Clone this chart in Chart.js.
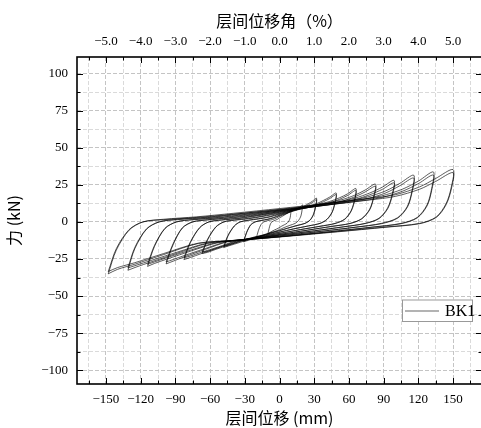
<!DOCTYPE html>
<html lang="zh">
<head>
    <meta charset="UTF-8">
    <title>BK1 滞回曲线</title>
    <script src="https://cdn.jsdelivr.net/npm/chart.js"></script>
    <style>
        html, body {
            margin: 0;
            padding: 0;
            background: #fff;
            overflow: hidden;
        }

        .chart-box {
            position: relative;
            width: 482px;
            height: 428px;
        }
    </style>
</head>
<body>
    <div class="chart-box">
        <canvas id="hysteresisChart" width="482" height="428"></canvas>
    </div>

    <script>
        // axis ticks
        const dispTicks = [-150, -120, -90, -60, -30, 0, 30, 60, 90, 120, 150];
        const driftTicks = [-5, -4, -3, -2, -1, 0, 1, 2, 3, 4, 5];
        const forceTicks = [-100, -75, -50, -25, 0, 25, 50, 75, 100];

        // loops per displacement level: displacement (mm), force (kN) for cycle 1 and cycle 2
        const x10 = [-10, -9, -7.8, -6.5, -5, -3, -1.5, 0, 2.5, 5, 6.5, 8, 9, 10, 9.7, 9.2, 8.2, 6.5, 4.5, 2, 0, -2.5, -4.5, -6.5, -8, -9, -10];
        const y10 = [-8, -4.5, -1.3, 0, 0.7, 1.3, 1.9, 2.7, 3.8, 5, 5.7, 6.4, 7.1, 8, 5.5, 2.8, 0.7, -0.9, -1.8, -2.8, -3.8, -4.8, -5.5, -6.3, -7, -7.5, -8];
        const x20 = [-20, -18.3, -16, -13.5, -10, -6, -3, 0, 5, 10, 13, 16, 18.2, 20, 19.5, 18.5, 16.5, 13.5, 9, 4, 0, -5, -9, -13, -16, -18.3, -20];
        const y20 = [-11, -6, -1.8, 0, 0.9, 1.6, 2.5, 3.7, 5.3, 7, 8, 9.1, 10.2, 11.5, 8, 4, 1, -1, -2.3, -3.8, -5.2, -6.6, -7.6, -8.7, -9.7, -10.4, -11];
        const x32 = [-31, -28.5, -25, -21, -16, -10, -5, 0, 8, 16, 21, 25, 28.5, 32, 31.3, 29.5, 26.5, 22, 15, 7, 0, -8, -14, -20, -25, -28.5, -31];
        const y32 = [-13.5, -7.5, -2.2, 0, 1, 1.9, 3, 4.6, 6.8, 9, 10.6, 12.3, 14, 16, 11, 5.5, 1.4, -1, -2.5, -4.3, -6, -7.7, -9, -10.5, -12, -12.8, -13.5];
        const y32b = [-12.9, -7.1, -2, 0, 0.9, 1.7, 2.8, 4.2, 6.3, 8.4, 9.9, 11.5, 13.1, 15, 10.3, 5.1, 1.2, -1, -2.4, -4.2, -5.8, -7.4, -8.7, -10.1, -11.5, -12.3, -12.9];
        const x49 = [-48.2, -44.5, -39, -34, -27, -18, -9, 0, 12, 24, 32, 38, 43.5, 49, 48, 45.5, 41, 35, 25, 12, 0, -12, -22, -31, -39, -44.5, -48.2];
        const y49 = [-17.3, -9.5, -2.8, 0, 1.2, 2.2, 3.5, 5.5, 8, 10.5, 12.3, 14.5, 16.8, 19.5, 13.5, 6.8, 1.8, -1, -2.7, -4.8, -7, -9, -10.5, -13, -15, -16.3, -17.3];
        const y49b = [-16.5, -9, -2.6, 0, 1, 2, 3.2, 5.1, 7.4, 9.8, 11.5, 13.6, 15.8, 18.4, 12.7, 6.4, 1.6, -1, -2.7, -4.7, -6.8, -8.7, -10.2, -12.5, -14.4, -15.6, -16.5];
        const x66 = [-66.8, -62, -55, -48, -39, -27, -15, 0, 16, 33, 43, 52, 59, 66, 65, 62, 56.5, 48, 35, 18, 0, -16, -30, -43, -55, -62, -66.8];
        const y66 = [-21.3, -12, -3.5, 0, 1.3, 2.4, 3.9, 6.3, 9, 11.7, 13.7, 16.3, 19, 22.5, 15.5, 7.8, 2, -1, -2.9, -5.2, -7.8, -10, -12, -15.5, -18.5, -20.5, -21.3];
        const y66b = [-20.3, -11.4, -3.3, 0, 1.1, 2.1, 3.6, 5.8, 8.4, 10.9, 12.8, 15.3, 17.9, 21.2, 14.6, 7.3, 1.8, -1.1, -3, -5.2, -7.7, -9.8, -11.7, -15, -17.8, -19.7, -20.3];
        const x83 = [-82.6, -77, -69, -61, -50, -35, -20, 0, 20, 41, 54, 65, 74, 83, 81.5, 78, 71, 61, 45, 24, 0, -20, -37, -53, -68, -77, -82.6];
        const y83 = [-25.4, -14, -4, 0, 1.4, 2.6, 4.3, 7, 9.8, 12.8, 15, 18, 21.5, 25.5, 17.5, 8.7, 2.2, -1, -3, -5.6, -8.5, -11, -13, -17.5, -21.5, -24, -25.4];
        const y83b = [-24.2, -13.4, -3.8, 0, 1.2, 2.3, 4, 6.5, 9.1, 12, 14, 16.9, 20.2, 24, 16.5, 8.2, 2, -1.1, -3.1, -5.6, -8.4, -10.8, -12.7, -16.9, -20.6, -23, -24.2];
        const x99 = [-98, -92, -84, -75, -62, -44, -25, 0, 25, 50, 65, 78, 89, 99, 97.5, 93.5, 86, 74, 55, 30, 0, -25, -45, -64, -82, -92, -98];
        const y99 = [-28.3, -15.5, -4.2, 0, 1.5, 2.8, 4.6, 7.5, 10.4, 13.5, 16, 19.5, 23.5, 28, 19, 9.5, 2.5, -1, -3.3, -6, -9, -11.5, -13.5, -18.5, -23.5, -26.5, -28.3];
        const y99b = [-27, -14.8, -4, 0, 1.3, 2.5, 4.2, 6.9, 9.7, 12.6, 15, 18.3, 22, 26.3, 17.8, 8.9, 2.2, -1.1, -3.4, -6, -8.9, -11.3, -13.2, -17.9, -22.6, -25.4, -27];
        const x116 = [-114, -108, -99, -89, -75, -53, -30, 0, 30, 58, 76, 92, 104, 116, 114.5, 110.5, 102, 88, 66, 36, 0, -30, -53, -76, -97, -108, -114];
        const y116 = [-30, -16.5, -4.5, 0, 1.6, 3, 5, 8, 11, 14.2, 16.8, 21, 26, 31.5, 21, 10.5, 2.8, -1, -3.5, -6.3, -9.5, -12, -14, -19.5, -25, -28, -30];
        const y116b = [-28.6, -15.8, -4.3, 0, 1.4, 2.7, 4.6, 7.4, 10.2, 13.3, 15.7, 19.6, 24.4, 29.6, 19.8, 9.9, 2.5, -1.2, -3.6, -6.4, -9.4, -11.8, -13.7, -18.8, -24, -27, -28.6];
        const x133 = [-131, -125, -115, -104, -88, -62, -35, 0, 35, 68, 88, 106, 120, 133, 131.5, 127.5, 119, 105, 80, 44, 0, -35, -62, -88, -111, -124, -131];
        const y133 = [-32.6, -18, -5, 0, 1.8, 3.2, 5.5, 8.5, 11.7, 15, 17.5, 22, 27.5, 33.7, 22.5, 11.5, 3, -1, -3.5, -6.5, -10, -12.5, -14.5, -21, -27, -30.5, -32.6];
        const y133b = [-31, -17.2, -4.7, 0, 1.5, 2.9, 5, 7.8, 10.8, 14, 16.4, 20.6, 25.8, 31.6, 21.2, 10.8, 2.7, -1.2, -3.6, -6.6, -10, -12.4, -14.2, -20.3, -26, -29.3, -31];
        const x150 = [-148, -141, -130, -118, -100, -72, -40, 0, 40, 78, 100, 121, 135, 150, 148.5, 144, 135.5, 121, 92, 50, 0, -40, -70, -100, -125, -140, -148];
        const y150 = [-35, -19, -5.6, 0, 1.8, 3.4, 5.8, 9, 12.3, 15.8, 18.3, 23.6, 29.3, 35.3, 23.6, 12.4, 3.4, -1, -3.4, -6.5, -10, -12.5, -14.5, -22, -28.5, -32, -35];
        const y150b = [-33.5, -18, -5.2, 0, 1.5, 3, 5.2, 8.2, 11.4, 14.8, 17.2, 22, 27.3, 33.2, 22.2, 11.6, 3, -1.2, -3.6, -6.7, -10.2, -12.6, -14.3, -21.3, -27.5, -30.8, -33.5];

        const loops = [
            [x10, y10], [x20, y20],
            [x32, y32], [x32, y32b],
            [x49, y49], [x49, y49b],
            [x66, y66], [x66, y66b],
            [x83, y83], [x83, y83b],
            [x99, y99], [x99, y99b],
            [x116, y116], [x116, y116b],
            [x133, y133], [x133, y133b],
            [x150, y150], [x150, y150b]
        ];

        const serif = "'Liberation Serif', 'DejaVu Serif', serif";
        const cjk = "'Noto Sans CJK SC', sans-serif";
        const minus = v => (v < 0 ? '\u2212' + Math.abs(v) : String(v));

        // minor ticks sit halfway between majors
        const withMinors = (majors, half) => {
            const all = [];
            majors.forEach(v => all.push(v - half, v));
            all.push(majors[majors.length - 1] + half);
            return all;
        };
        const xGrid = withMinors(dispTicks, 15);
        const yGrid = withMinors(forceTicks, 12.5).filter(v => v > -109 && v < 111);
        const topGrid = withMinors(driftTicks, 0.5);

        const datasets = loops.map(([xs, ys]) => ({
            label: 'BK1',
            data: xs.map((x, j) => ({ x: x, y: ys[j] })),
            borderColor: 'rgba(0,0,0,0.85)',
            borderWidth: 0.75,
            pointRadius: 0,
            tension: 0.3,
            fill: false
        }));

        // frame + inward ticks
        const framePlugin = {
            id: 'frame',
            afterDatasetsDraw(chart) {
                const { ctx, chartArea: a, scales } = chart;
                ctx.save();
                ctx.strokeStyle = '#000';
                ctx.lineWidth = 1;
                const tick = (x1, y1, x2, y2) => {
                    ctx.beginPath();
                    ctx.moveTo(x1, y1);
                    ctx.lineTo(x2, y2);
                    ctx.stroke();
                };
                xGrid.forEach(v => {
                    const px = Math.round(scales.x.getPixelForValue(v)) + 0.5;
                    const len = dispTicks.includes(v) ? 6 : 3.5;
                    tick(px, a.bottom, px, a.bottom - len);
                    tick(px, a.top, px, a.top + len);
                });
                yGrid.forEach(v => {
                    const py = Math.round(scales.y.getPixelForValue(v)) + 0.5;
                    const len = forceTicks.includes(v) ? 6 : 3.5;
                    tick(a.left, py, a.left + len, py);
                    tick(a.right, py, a.right - len, py);
                });
                ctx.lineWidth = 1.6;
                ctx.strokeRect(a.left, a.top, a.right - a.left, a.bottom - a.top);
                ctx.restore();
            }
        };

        // legend box inside the plot
        const legendPlugin = {
            id: 'boxLegend',
            afterDraw(chart) {
                const { ctx, chartArea: a } = chart;
                const left = a.right - 80, top = a.top + 242.5, w = 70, h = 21.5;
                ctx.save();
                ctx.fillStyle = '#fff';
                ctx.fillRect(left, top, w, h);
                ctx.strokeStyle = '#999';
                ctx.lineWidth = 1;
                ctx.strokeRect(left + 0.5, top + 0.5, w, h);
                ctx.strokeStyle = 'rgba(0,0,0,0.75)';
                ctx.lineWidth = 0.8;
                ctx.beginPath();
                ctx.moveTo(left + 3, top + 11.5);
                ctx.lineTo(left + 37, top + 11.5);
                ctx.stroke();
                ctx.fillStyle = '#000';
                ctx.font = "16px " + serif;
                ctx.textBaseline = 'middle';
                ctx.fillText(chart.data.datasets[0].label, left + 43, top + 12);
                ctx.restore();
            }
        };

        const ctx = document.getElementById('hysteresisChart').getContext('2d');
        const hysteresisChart = new Chart(ctx, {
            type: 'line',
            data: { datasets: datasets },
            options: {
                responsive: false,
                animation: false,
                devicePixelRatio: 1,
                layout: { padding: 0 },
                plugins: {
                    legend: { display: false },
                    tooltip: { enabled: false }
                },
                scales: {
                    x: {
                        type: 'linear',
                        position: 'bottom',
                        min: -175,
                        max: 175,
                        afterBuildTicks: s => { s.ticks = xGrid.map(v => ({ value: v })); },
                        afterFit: s => { s.height = 44; },
                        ticks: {
                            autoSkip: false,
                            maxRotation: 0,
                            padding: 8,
                            color: '#000',
                            font: { family: serif, size: 13 },
                            callback: v => (dispTicks.includes(v) ? minus(v) : '')
                        },
                        grid: {
                            drawTicks: false,
                            color: c => (dispTicks.includes(c.tick && c.tick.value) ? '#c4c4c4' : '#dadada'),
                            lineWidth: 1
                        },
                        border: { display: false, dash: [4, 2] },
                        title: {
                            display: true,
                            text: '层间位移 (mm)',
                            color: '#000',
                            font: { family: cjk, size: 16 },
                            padding: { top: 0, bottom: 0 }
                        }
                    },
                    x2: {
                        type: 'linear',
                        position: 'top',
                        min: -175 / 30,
                        max: 175 / 30,
                        afterBuildTicks: s => { s.ticks = topGrid.map(v => ({ value: v })); },
                        afterFit: s => { s.height = 57; },
                        ticks: {
                            autoSkip: false,
                            maxRotation: 0,
                            padding: 8,
                            color: '#000',
                            font: { family: serif, size: 13 },
                            callback: v => (driftTicks.includes(v) ? (v < 0 ? '\u2212' : '') + Math.abs(v).toFixed(1) : '')
                        },
                        grid: { display: false, drawTicks: false },
                        border: { display: false },
                        title: {
                            display: true,
                            text: '层间位移角（%）',
                            color: '#000',
                            font: { family: cjk, size: 16 },
                            padding: { top: 11, bottom: 0 }
                        }
                    },
                    y: {
                        type: 'linear',
                        min: -109.3,
                        max: 111.2,
                        afterBuildTicks: s => { s.ticks = yGrid.map(v => ({ value: v })); },
                        afterFit: s => { s.width = 77; },
                        ticks: {
                            autoSkip: false,
                            padding: 9,
                            color: '#000',
                            font: { family: serif, size: 13 },
                            callback: v => (forceTicks.includes(v) ? minus(v) : '')
                        },
                        grid: {
                            drawTicks: false,
                            color: c => (forceTicks.includes(c.tick && c.tick.value) ? '#c4c4c4' : '#dadada'),
                            lineWidth: 1
                        },
                        border: { display: false, dash: [4, 2] },
                        title: {
                            display: true,
                            text: '力 (kN)',
                            color: '#000',
                            font: { family: cjk, size: 16 },
                            padding: { top: 4, bottom: 0 }
                        }
                    }
                }
            },
            plugins: [framePlugin, legendPlugin]
        });
    </script>
</body>
</html>
